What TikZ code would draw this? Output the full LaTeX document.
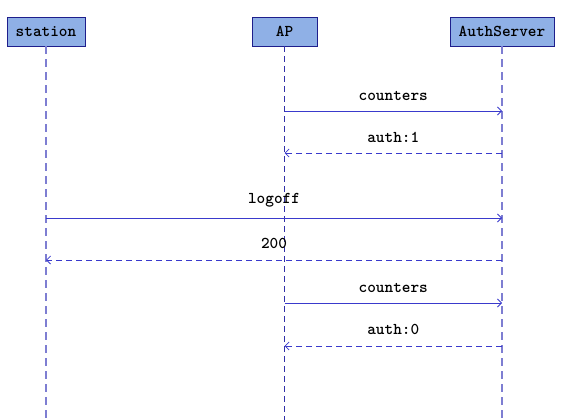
\documentclass[tikz,border=0pt]{standalone}
\usetikzlibrary{arrows.meta}
\definecolor{boxfill}{HTML}{8FB0E6}
\definecolor{boxline}{HTML}{1E1E8C}
\definecolor{msgcol}{HTML}{3A3ACC}
\definecolor{lifeA}{HTML}{7E7ED2}
\definecolor{lifeB}{HTML}{3030A8}
\tikzset{
  actor/.style={draw=boxline, fill=boxfill, line width=0.9pt, minimum height=29pt,
    inner sep=0pt, font=\fontsize{16.5}{18}\selectfont\ttfamily\bfseries},
  lifelight/.style={draw=lifeA, line width=1.1pt, dash pattern=on 8pt off 5pt},
  lifedark/.style={draw=lifeB, line width=0.9pt, dash pattern=on 6pt off 4pt},
  msg/.style={draw=msgcol, line width=0.8pt, -{Straight Barb[length=4pt,width=8pt]}},
  ret/.style={msg, dash pattern=on 6pt off 4pt},
  lbl/.style={font=\fontsize{16.5}{18}\selectfont\ttfamily\bfseries, text=black, inner sep=0pt}
}
\begin{document}
\begin{tikzpicture}[x=1pt,y=-1pt]
\useasboundingbox (0,0) rectangle (576,420);
\node[actor, minimum width=78pt] (st) at (46,31.5) {station};
\node[actor, minimum width=65pt] (ap) at (284.5,31.5) {AP};
\node[actor, minimum width=104pt] (as) at (502,31.5) {AuthServer};
\coordinate (stb) at (46,420);
\coordinate (apb) at (284.5,420);
\coordinate (asb) at (502,420);
\draw[lifelight] (st.south) -- (stb);
\draw[lifedark] (ap.south) -- (apb);
\draw[lifelight] (as.south) -- (asb);
% message anchors
\foreach \n/\y in {1/111,2/153,3/218,4/260,5/303,6/346}{
  \coordinate (s\n) at (46,\y);
  \coordinate (a\n) at (284.5,\y);
  \coordinate (r\n) at (502,\y);
}
\draw[msg] (a1) -- node[lbl, above=10.5pt] {counters} (r1);
\draw[ret] (r2) -- node[lbl, above=10.5pt] {auth:1} (a2);
\draw[msg] (s3) -- node[lbl, above=10.5pt] {logoff} (r3);
\draw[ret] (r4) -- node[lbl, above=10.5pt] {200} (s4);
\draw[msg] (a5) -- node[lbl, above=10.5pt] {counters} (r5);
\draw[ret] (r6) -- node[lbl, above=10.5pt] {auth:0} (a6);
\end{tikzpicture}
\end{document}
